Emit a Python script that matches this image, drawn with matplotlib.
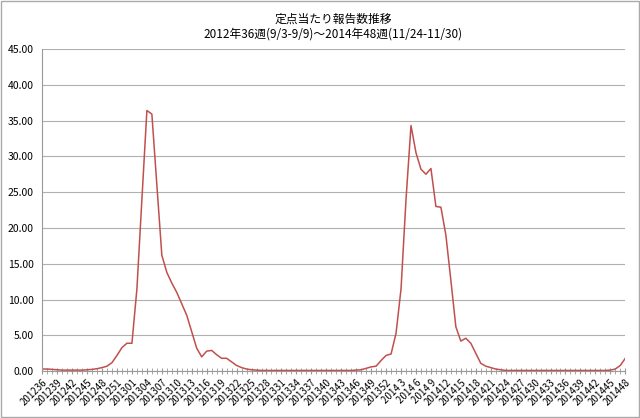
import matplotlib
matplotlib.use("Agg")
import matplotlib.pyplot as plt
import numpy as np

plt.rcParams['font.family'] = ['Noto Sans CJK JP', 'DejaVu Sans']

# weeks: 2012w36-53, 2013w1-52, 2014w1-48
weeks = ([(2012, w) for w in range(36, 54)] + [(2013, w) for w in range(1, 53)]
         + [(2014, w) for w in range(1, 49)])
week_labels = [f"{y}{w:02d}" if y < 2014 else f"{y}{w:>2d}" for y, w in weeks]

values_2012 = [0.3, 0.3, 0.25, 0.2, 0.15, 0.15, 0.15, 0.15, 0.15, 0.2, 0.25, 0.35, 0.5, 0.7,
               1.2, 2.2, 3.3, 3.9]
values_2013 = [3.9, 11.5, 24.0, 36.4, 35.9, 26.0, 16.2, 13.8, 12.3, 11.0, 9.4, 7.8, 5.5, 3.2,
               2.0, 2.8, 2.9, 2.3, 1.8, 1.8, 1.3, 0.8, 0.5, 0.3, 0.2, 0.15, 0.1, 0.1, 0.1, 0.1,
               0.1, 0.1, 0.1, 0.1, 0.1, 0.1, 0.1, 0.1, 0.1, 0.1, 0.1, 0.1, 0.1, 0.1, 0.1, 0.15,
               0.2, 0.4, 0.6, 0.7, 1.5, 2.2]
values_2014 = [2.4, 5.3, 11.5, 24.0, 34.3, 30.5, 28.2, 27.5, 28.3, 23.0, 22.9, 19.0, 12.7, 6.2,
               4.2, 4.6, 3.9, 2.5, 1.1, 0.7, 0.5, 0.3, 0.2, 0.1, 0.1, 0.1, 0.1, 0.1, 0.1, 0.1,
               0.1, 0.1, 0.1, 0.1, 0.1, 0.1, 0.1, 0.1, 0.1, 0.1, 0.1, 0.1, 0.1, 0.1, 0.15, 0.3,
               0.8, 1.8]
values = values_2012 + values_2013 + values_2014
n = min(len(values), len(week_labels))
values = values[:n]
week_labels = week_labels[:n]

x = np.arange(n)

fig = plt.figure(figsize=(6.4, 4.18), dpi=100)
ax = fig.add_axes([0.066, 0.112, 0.911, 0.771])

ax.plot(x, values, color="#c0504d", linewidth=1.1)

ax.set_xlim(0, n - 1)
ax.set_ylim(0, 45)
ax.set_yticks(np.arange(0, 46, 5))
ax.set_yticklabels([f"{v:.2f}" for v in np.arange(0, 46, 5)], fontsize=7.5)
ax.yaxis.grid(True, color="#b0b0b0", linewidth=0.8)
ax.set_axisbelow(True)

ax.set_xticks(x[::3])
ax.set_xticklabels(week_labels[::3], rotation=45, ha="right", fontsize=7,
                   rotation_mode="anchor")
ax.set_xticks(x, minor=True)
ax.tick_params(axis="x", which="both", direction="inout", length=5, color="#999999", pad=2)
ax.tick_params(axis="y", length=0, pad=6)

for side in ["top", "right"]:
    ax.spines[side].set_visible(False)
ax.spines["left"].set_color("#999999")
ax.spines["bottom"].set_color("#999999")

fig.text(0.52, 0.955, "定点当たり報告数推移", ha="center", va="center", fontsize=8.5)
fig.text(0.52, 0.918, "2012年36週(9/3-9/9)～2014年48週(11/24-11/30)", ha="center",
         va="center", fontsize=8.5)

fig.patches.append(plt.Rectangle((0.002, 0.002), 0.996, 0.996, transform=fig.transFigure,
                                 fill=False, edgecolor="#aaaaaa", linewidth=1))

fig.savefig("out.png", dpi=100)
